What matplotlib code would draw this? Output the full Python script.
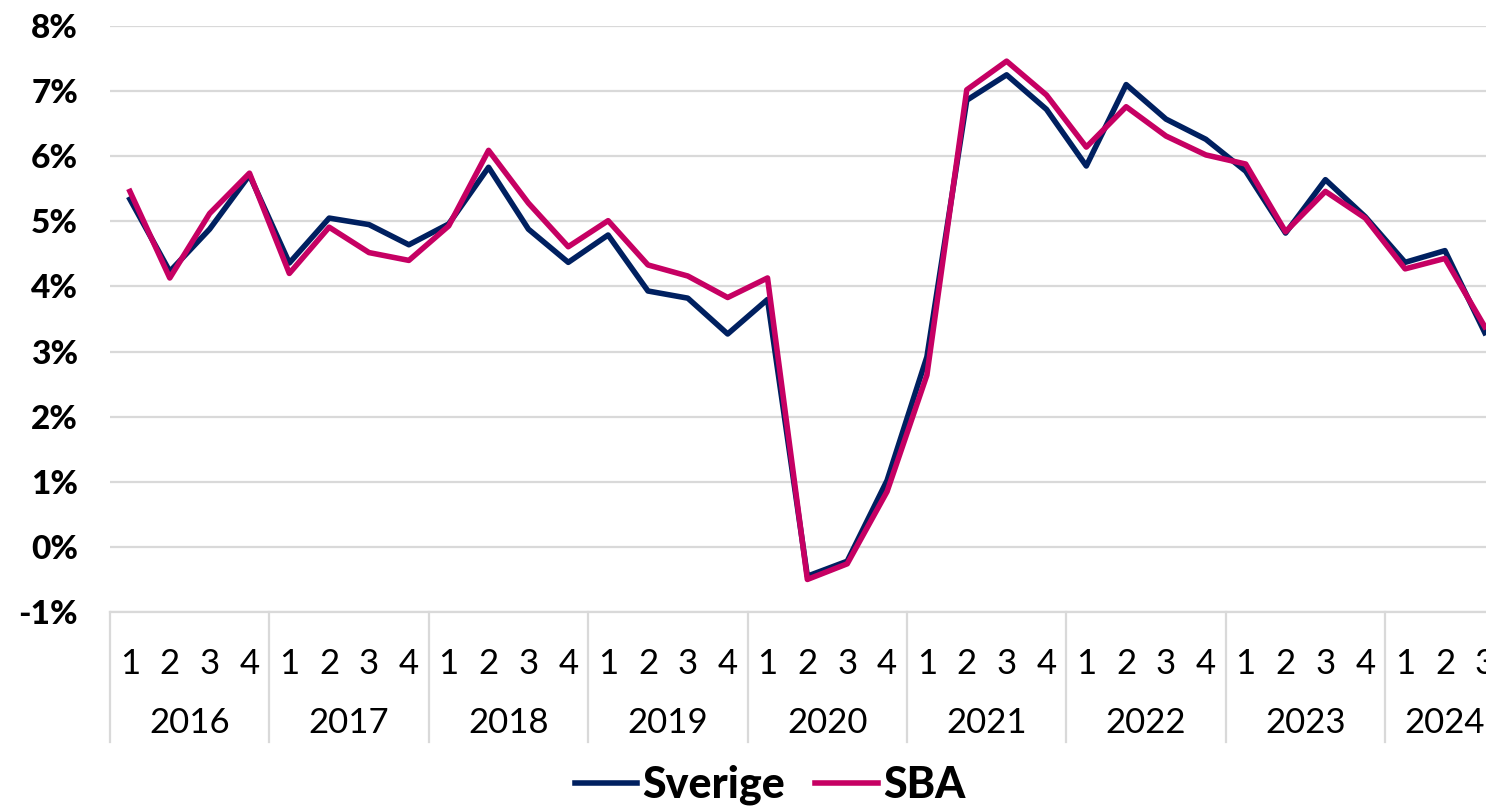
import matplotlib
matplotlib.use('Agg')
import matplotlib.pyplot as plt
import matplotlib.transforms as mtransforms

years = ['2016', '2017', '2018', '2019', '2020', '2021', '2022', '2023', '2024']
quarters_per_year = [4, 4, 4, 4, 4, 4, 4, 4, 3]

# tillväxt i procent per kvartal
sverige = [5.34, 4.23, 4.88, 5.71, 4.36, 5.05, 4.95, 4.64, 4.96, 5.83, 4.88, 4.37,
           4.79, 3.93, 3.82, 3.27, 3.80, -0.45, -0.22, 1.02, 2.92, 6.86, 7.25, 6.72,
           5.85, 7.10, 6.57, 6.26, 5.77, 4.82, 5.64, 5.07, 4.37, 4.55, 3.29]
sba = [5.46, 4.13, 5.12, 5.74, 4.20, 4.91, 4.52, 4.40, 4.93, 6.09, 5.28, 4.61,
       5.01, 4.33, 4.16, 3.83, 4.13, -0.50, -0.26, 0.85, 2.64, 7.02, 7.46, 6.94,
       6.14, 6.76, 6.31, 6.02, 5.88, 4.84, 5.46, 5.05, 4.27, 4.43, 3.38]

y_ticks = [-1, 0, 1, 2, 3, 4, 5, 6, 7, 8]

plt.rcParams['font.family'] = ['Lato', 'DejaVu Sans']

quarter_labels = []
for n in quarters_per_year:
    quarter_labels += [str(q + 1) for q in range(n)]
x = list(range(len(sverige)))

fig = plt.figure(figsize=(14.86, 8.06), dpi=100, facecolor='white')
ax = fig.add_axes([110 / 1486, 1 - 612 / 806, 1 - 110 / 1486, (612 - 26) / 806])

ax.plot(x, sverige, color='#002060', lw=4.0, label='Sverige', zorder=3)
ax.plot(x, sba, color='#c60063', lw=4.0, label='SBA', zorder=4)

ax.set_ylim(-1, 8)
ax.set_xlim(-0.5, 34.03)
ax.set_yticks(y_ticks)
ax.set_yticklabels([f'{v}%' for v in y_ticks], fontsize=24, fontweight='black')
ax.yaxis.grid(True, color='#d9d9d9', lw=1.6)
ax.set_axisbelow(True)
for s in ['top', 'right', 'left']:
    ax.spines[s].set_visible(False)
ax.spines['bottom'].set_color('#d9d9d9')
ax.spines['bottom'].set_linewidth(1.6)
ax.tick_params(axis='y', length=0, pad=23)

ax.set_xticks(x)
ax.set_xticklabels(quarter_labels, fontsize=25)
ax.tick_params(axis='x', length=0, pad=26)

trans = mtransforms.blended_transform_factory(ax.transData, ax.transAxes)
start = 0
for yr, n in zip(years, quarters_per_year):
    ax.plot([start - 0.5, start - 0.5], [0, -0.222], color='#d9d9d9', lw=1.6,
            transform=trans, clip_on=False)
    ax.text(start + (n - 1) / 2, -0.19, yr, transform=trans, ha='center', va='center',
            fontsize=25)
    start += n

fig.legend(loc='center', bbox_to_anchor=(770 / 1486, 1 - 785 / 806), ncol=2, frameon=False,
           prop={'size': 31, 'weight': 'black'}, handlelength=1.45, handletextpad=0.12,
           columnspacing=0.7)

plt.savefig('out.png', dpi=100)
